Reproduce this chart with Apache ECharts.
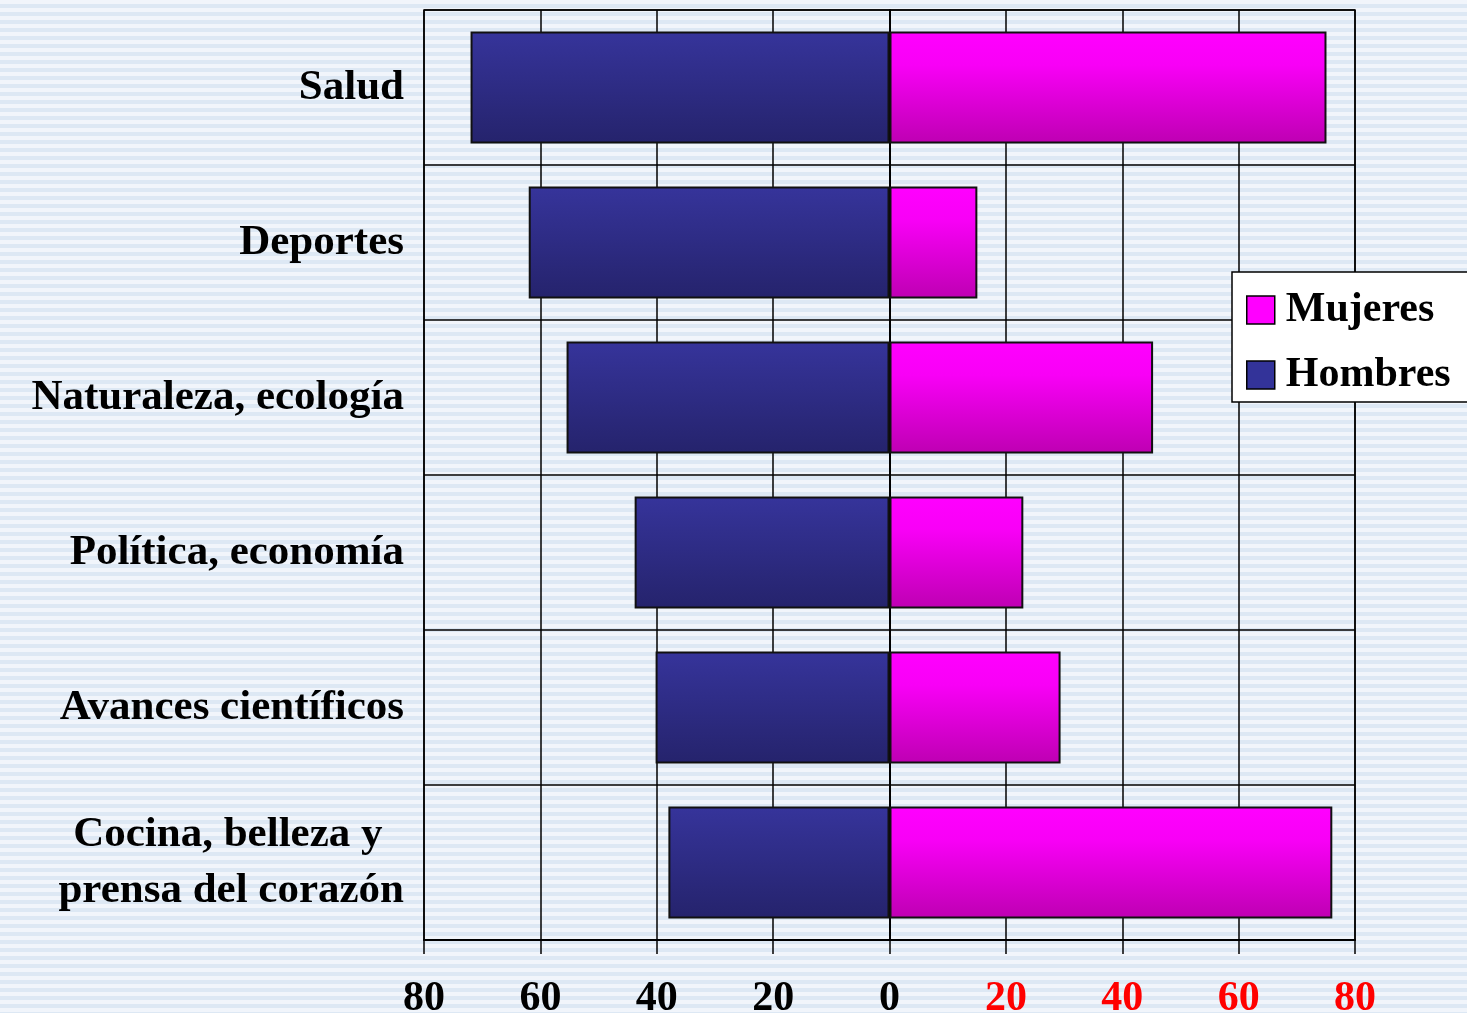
<!DOCTYPE html>
<html><head><meta charset="utf-8">
<script src="https://cdn.jsdelivr.net/npm/echarts@6/dist/echarts.min.js"></script>
<style>
html,body{margin:0;padding:0;}
body{width:1467px;height:1013px;overflow:hidden;
background: repeating-linear-gradient(180deg,#f1f5fb 0px,#f1f5fb 4px,#dde8f4 4px,#dde8f4 8px);}
#c{width:1467px;height:1013px;}
</style></head>
<body><div id="c"></div>
<script>
const categories = ['Salud','Deportes','Naturaleza, ecología','Política, economía','Avances científicos','Cocina, belleza y\u00a0\u00a0\nprensa del corazón'];
const hombres = [-72, -62, -55.5, -43.8, -40.2, -38];
const mujeres = [75.1, 15.1, 45.3, 23, 29.4, 76.1];
const xTicks = {min:-80, max:80, interval:20};

const chart = echarts.init(document.getElementById('c'), null, {renderer:'canvas'});
const serif = "'Liberation Serif','DejaVu Serif',serif";
chart.setOption({
  backgroundColor:'transparent',
  animation:false,
  grid:{left:424,right:112,top:10,bottom:73,show:true,borderColor:'#000',borderWidth:1.5,containLabel:false,outerBoundsMode:'none'},
  legend:{
    left:1232, top:272, orient:'vertical', icon:'rect',
    backgroundColor:'#fff', borderColor:'#000', borderWidth:1.5,
    padding:[17,30,6,14], itemWidth:28, itemHeight:28, itemGap:23,
    textStyle:{fontFamily:serif,fontWeight:'bold',fontSize:42,color:'#000',padding:[0,0,0,6]},
    data:[
      {name:'Mujeres', itemStyle:{color:'#ff00ff',borderColor:'#000',borderWidth:1.5}},
      {name:'Hombres', itemStyle:{color:'#333399',borderColor:'#000',borderWidth:1.5}}
    ]
  },
  xAxis:{
    type:'value', min:xTicks.min, max:xTicks.max, interval:xTicks.interval,
    axisLine:{show:true,lineStyle:{color:'#000',width:2}},
    axisTick:{show:true,length:14,lineStyle:{color:'#000',width:1.5}},
    splitLine:{show:true,lineStyle:{color:'#000',width:1.5}},
    axisLabel:{margin:38,
      formatter:v=> v>0 ? '{r|'+v+'}' : '{k|'+Math.abs(v)+'}',
      rich:{
        r:{color:'#ff0000',fontFamily:serif,fontWeight:'bold',fontSize:42},
        k:{color:'#000',fontFamily:serif,fontWeight:'bold',fontSize:42}
      }}
  },
  yAxis:{
    type:'category', inverse:true, data:categories,
    axisLine:{show:true,lineStyle:{color:'#000',width:2}},
    axisTick:{show:false},
    splitLine:{show:true,lineStyle:{color:'#000',width:1.5}},
    axisLabel:{margin:20,color:'#000',fontFamily:serif,fontWeight:'bold',fontSize:43,lineHeight:56,align:'right',padding:[12,0,0,0]}
  },
  series:[
    {name:'Hombres',type:'bar',data:hombres,barWidth:112,barGap:'-100%',
     itemStyle:{borderColor:'#111',borderWidth:2,
       color:new echarts.graphic.LinearGradient(0,0,0,1,[{offset:0,color:'#36349b'},{offset:1,color:'#25236c'}])}},
    {name:'Mujeres',type:'bar',data:mujeres,barWidth:112,barGap:'-100%',
     itemStyle:{borderColor:'#111',borderWidth:2,
       color:new echarts.graphic.LinearGradient(0,0,0,1,[{offset:0,color:'#ff00ff'},{offset:0.3,color:'#f800f6'},{offset:1,color:'#be00b2'}])}}
  ]
});
</script></body></html>
